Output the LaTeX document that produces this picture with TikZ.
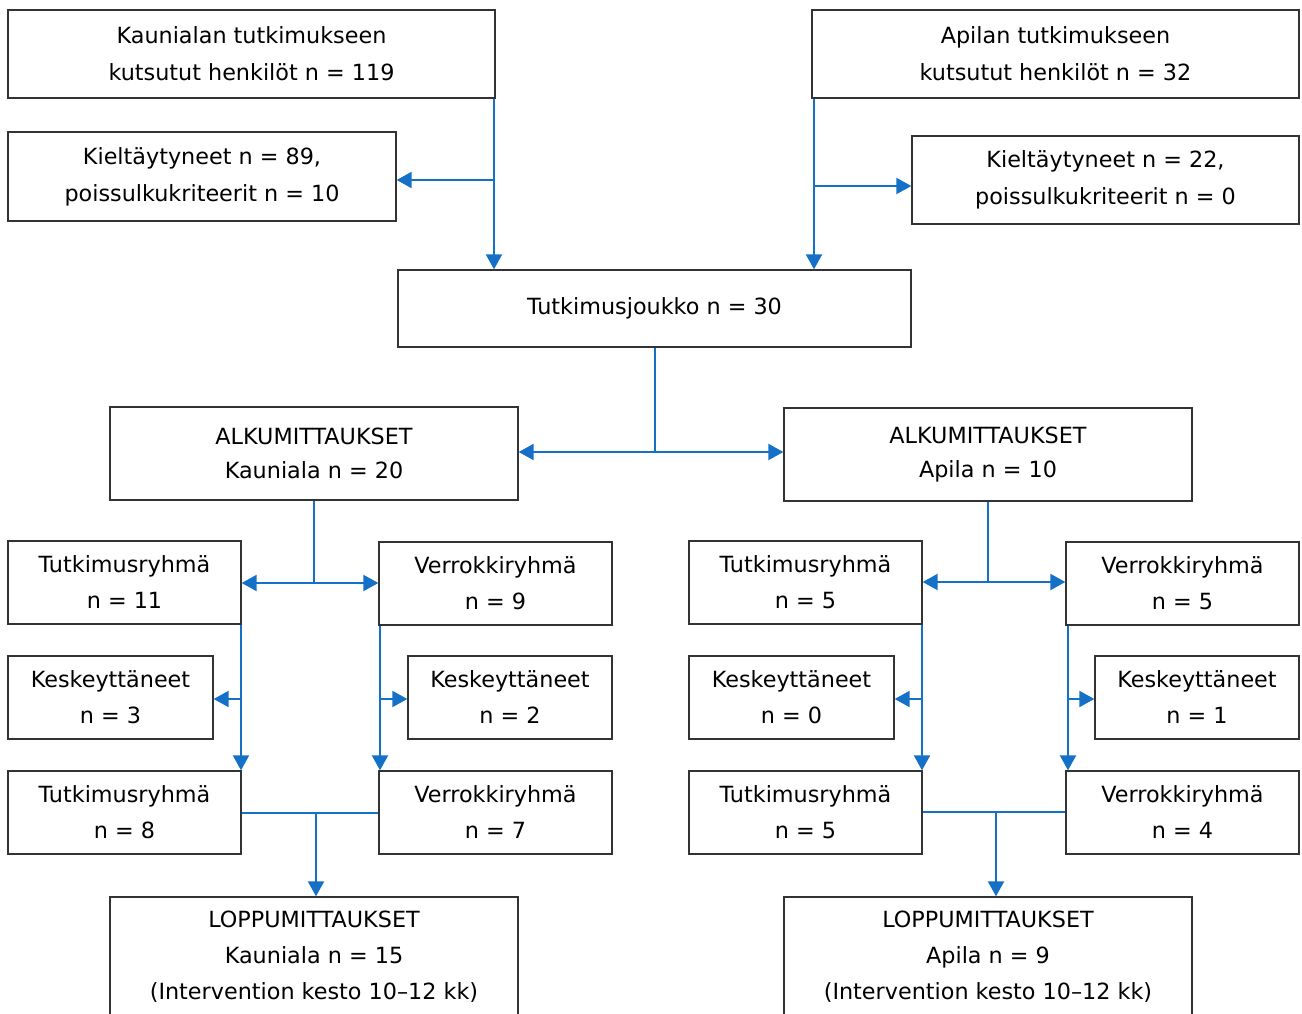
\documentclass[tikz,border=0pt]{standalone}
\usepackage{fontspec}
\setmainfont{DejaVu Sans}
\usetikzlibrary{positioning,arrows.meta}
\definecolor{flowblue}{HTML}{1570C8}
\definecolor{boxline}{HTML}{333333}

\begin{document}
\begin{tikzpicture}[x=1pt,y=-1pt,>={Triangle[length=15pt,width=16pt]},
    box/.style={draw=boxline,line width=1.3pt,align=center,inner sep=0pt,
      font=\fontsize{22.3}{36}\selectfont},
    flow/.style={draw=flowblue,line width=2pt}]
    \useasboundingbox (0,0) rectangle (1302,1014);

    \draw (251.5,54) node[box,minimum width=487pt,minimum height=88pt,
      font=\fontsize{22.3}{37}\selectfont] (kinv)
      {Kaunialan tutkimukseen\\kutsutut henkilöt n = 119};
    \draw (1055.5,54) node[box,minimum width=487pt,minimum height=88pt,
      font=\fontsize{22.3}{37}\selectfont] (ainv)
      {Apilan tutkimukseen\\kutsutut henkilöt n = 32};
    \draw (202,176.5) node[box,minimum width=388pt,minimum height=89pt,
      font=\fontsize{22.3}{37}\selectfont] (kexc)
      {Kieltäytyneet n = 89,\\poissulkukriteerit n = 10};
    \draw (1105.5,180) node[box,minimum width=387pt,minimum height=88pt,
      font=\fontsize{22.3}{37}\selectfont] (aexc)
      {Kieltäytyneet n = 22,\\poissulkukriteerit n = 0};
    \draw (654.5,308.5) node[box,minimum width=513pt,minimum height=77pt] (pool)
      {Tutkimusjoukko n = 30};

    \draw (314,453.5) node[box,minimum width=408pt,minimum height=93pt,
      font=\fontsize{22.3}{34}\selectfont] (kbase)
      {ALKUMITTAUKSET\\Kauniala n = 20};
    \draw (988,454.5) node[box,minimum width=408pt,minimum height=93pt,
      font=\fontsize{22.3}{34}\selectfont] (abase)
      {ALKUMITTAUKSET\\Apila n = 10};

    \draw (124.5,582.5) node[box,minimum width=233pt,minimum height=83pt] (kt1)
      {Tutkimusryhmä\\n = 11};
    \draw (495.5,583.5) node[box,minimum width=233pt,minimum height=83pt] (kv1)
      {Verrokkiryhmä\\n = 9};
    \draw (805.5,582.5) node[box,minimum width=233pt,minimum height=83pt] (at1)
      {Tutkimusryhmä\\n = 5};
    \draw (1182.5,583.5) node[box,minimum width=233pt,minimum height=83pt] (av1)
      {Verrokkiryhmä\\n = 5};

    \draw (110.5,697.5) node[box,minimum width=205pt,minimum height=83pt] (ktd)
      {Keskeyttäneet\\n = 3};
    \draw (510,697.5) node[box,minimum width=204pt,minimum height=83pt] (kvd)
      {Keskeyttäneet\\n = 2};
    \draw (791.5,697.5) node[box,minimum width=205pt,minimum height=83pt] (atd)
      {Keskeyttäneet\\n = 0};
    \draw (1197,697.5) node[box,minimum width=204pt,minimum height=83pt] (avd)
      {Keskeyttäneet\\n = 1};

    \draw (124.5,812.5) node[box,minimum width=233pt,minimum height=83pt] (kt2)
      {Tutkimusryhmä\\n = 8};
    \draw (495.5,812.5) node[box,minimum width=233pt,minimum height=83pt] (kv2)
      {Verrokkiryhmä\\n = 7};
    \draw (805.5,812.5) node[box,minimum width=233pt,minimum height=83pt] (at2)
      {Tutkimusryhmä\\n = 5};
    \draw (1182.5,812.5) node[box,minimum width=233pt,minimum height=83pt] (av2)
      {Verrokkiryhmä\\n = 4};

    \draw (314,957) node[box,minimum width=408pt,minimum height=120pt] (kend)
      {LOPPUMITTAUKSET\\Kauniala n = 15\\(Intervention kesto 10--12 kk)};
    \draw (988,957) node[box,minimum width=408pt,minimum height=120pt] (aend)
      {LOPPUMITTAUKSET\\Apila n = 9\\(Intervention kesto 10--12 kk)};

    \coordinate (kj) at (494,180);
    \coordinate (aj) at (814,186);
    \coordinate (pj) at (654.5,452);
    \coordinate (kbj) at (314,583);
    \coordinate (abj) at (988,582);
    \coordinate (ktj) at (241,699);
    \coordinate (kvj) at (380,699);
    \coordinate (atj) at (922,699);
    \coordinate (avj) at (1068,699);
    \coordinate (kmj) at (316,813);
    \coordinate (amj) at (996,812);

    \draw[flow,->] (kinv.south -| kj) -- (pool.north -| kj);
    \draw[flow,->] (kj) -- (kexc.east |- kj);
    \draw[flow,->] (ainv.south -| aj) -- (pool.north -| aj);
    \draw[flow,->] (aj) -- (aexc.west |- aj);

    \draw[flow] (pool.south) -- (pj);
    \draw[flow,<->] (kbase.east |- pj) -- (abase.west |- pj);

    \draw[flow] (kbase.south) -- (kbj);
    \draw[flow,<->] (kt1.east |- kbj) -- (kv1.west |- kbj);
    \draw[flow] (abase.south) -- (abj);
    \draw[flow,<->] (at1.east |- abj) -- (av1.west |- abj);

    \draw[flow,->] (kt1.south -| ktj) -- (kt2.north -| ktj);
    \draw[flow,->] (ktj) -- (ktd.east |- ktj);
    \draw[flow,->] (kv1.south -| kvj) -- (kv2.north -| kvj);
    \draw[flow,->] (kvj) -- (kvd.west |- kvj);
    \draw[flow,->] (at1.south -| atj) -- (at2.north -| atj);
    \draw[flow,->] (atj) -- (atd.east |- atj);
    \draw[flow,->] (av1.south -| avj) -- (av2.north -| avj);
    \draw[flow,->] (avj) -- (avd.west |- avj);

    \draw[flow] (kt2.east |- kmj) -- (kv2.west |- kmj);
    \draw[flow,->] (kmj) -- (kend.north -| kmj);
    \draw[flow] (at2.east |- amj) -- (av2.west |- amj);
    \draw[flow,->] (amj) -- (aend.north -| amj);
  \end{tikzpicture}
\end{document}
